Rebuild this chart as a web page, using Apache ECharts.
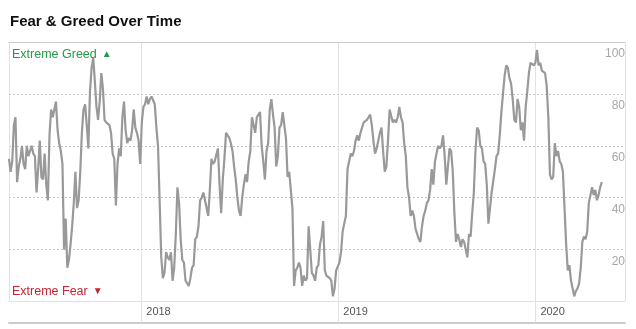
<!DOCTYPE html>
<html><head><meta charset="utf-8">
<script src="https://cdn.jsdelivr.net/npm/echarts@6/dist/echarts.min.js"></script>
<style>html,body{margin:0;padding:0;background:#fff}#c{width:636px;height:329px}</style>
</head><body><div id="c"></div>
<script>
// Daily Fear & Greed index, every 3 days starting 2017-05-01
const startDate = '2017-05-01';
const stepDays = 3;
const values2017 = [55,50,54,68,71,46,52,55,60,53, 51,60,56,58,60,57,56,42,51,62,
  48,47,57,45,39,64,74,71,71,77, 66,61,58,53,20,32,13,16,22,29,
  38,50,36,39,50,65,74,76,68,59, 81,90,94,85,75,70,77,88,82,70,
  69,69,68,65,57,55,37,53,59,56, 71,77,66,61,63,62,66,74,67,65, 62,53];
const values2018 = [69,75,76,79,76,78,79,79,
  76,67,60,39,17,9,11,19,17,16, 19,8,13,26,44,38,24,16,15,8,
  8,6,9,13,14,24,25,29,39,40, 42,42,36,33,43,55,53,54,54,59,
  45,34,47,55,65,64,63,61,58,52, 47,40,35,33,40,45,49,46,54,58,
  71,68,65,71,72,73,60,54,47,58, 61,74,78,72,67,52,56,67,68,73,
  73,63,48,50,50,36,6,12,13,15, 13,6,10,8,9,29,20,11,10,8,
  13,14,22,25,31,12,10,10,9,8, 2,5,12,12];
const values2019 = [15,19,27,30,33,51,
  51,57,56,58,62,64,62,65,67,69, 69,70,71,72,68,62,57,59,62,65,
  67,58,50,52,62,74,74,69,70,69, 71,75,71,69,61,56,44,40,33,35,
  33,28,26,24,23,29,33,35,38,39, 43,51,45,54,57,60,59,60,64,56,
  45,45,59,58,50,34,23,26,24,21, 24,23,20,17,26,25,34,42,58,67,
  66,60,59,54,53,45,30,30,42,42, 51,56,57,64,73,80,87,91,90,86,
  84,78,70,69,78,75,66,69,62,75, 81,88,92,92,91];
const values2020 = [92,97,91,92,89,
  89,88,83,71,49,47,48,61,56,58, 54,53,50,36,22,12,14,8,5,2,
  4,5,7,13,23,25,24,27,38,41, 44,41,43,39,41,44,46];

const yTicks = [20, 40, 60, 80, 100];
const yearLabels = ['2018', '2019', '2020'];
const axisMin = '2017-05-01';
const axisMax = '2020-06-15';

const values = [].concat(values2017, values2018, values2019, values2020);
const start = new Date(startDate + 'T00:00:00');
const data = values.map((v, i) => {
  const d = new Date(start.getTime());
  d.setDate(d.getDate() + i * stepDays);
  return [d.getTime(), v];
});

const FONT = 'Liberation Sans, Arial, Helvetica, sans-serif';
const YEAR = 365 * 24 * 3600 * 1000;

const chart = echarts.init(document.getElementById('c'), null, {renderer: 'canvas'});
chart.setOption({
  animation: false,
  backgroundColor: '#fff',
  title: [
    {text: 'Fear & Greed Over Time', left: 10, top: 14, padding: 0,
     textStyle: {fontFamily: FONT, fontSize: 15, fontWeight: 'bold', color: '#111', lineHeight: 16}},
    {text: '{t|Extreme Greed} {a|▲}', left: 12, top: 45.5, padding: 0,
     textStyle: {fontWeight: 'normal', rich: {
       t: {fontFamily: FONT, fontSize: 12.5, fontWeight: 'normal', color: '#23994a', lineHeight: 13},
       a: {fontFamily: FONT, fontSize: 10, fontWeight: 'normal', color: '#23994a', lineHeight: 13}}}},
    {text: '{t|Extreme Fear} {a|▼}', left: 12, top: 282.5, padding: 0,
     textStyle: {fontWeight: 'normal', rich: {
       t: {fontFamily: FONT, fontSize: 12.5, fontWeight: 'normal', color: '#c62333', lineHeight: 13},
       a: {fontFamily: FONT, fontSize: 10, fontWeight: 'normal', color: '#c62333', lineHeight: 13}}}}
  ],
  grid: {left: 9, right: 11, top: 42, bottom: 27.5, containLabel: false},
  xAxis: [
    {type: 'time', min: axisMin, max: axisMax, splitNumber: 3, minInterval: YEAR,
     axisLine: {show: true, lineStyle: {color: '#e2e2e2', width: 1}},
     axisTick: {show: true, length: 21, lineStyle: {color: '#e2e2e2', width: 1}},
     splitLine: {show: true, lineStyle: {color: '#e2e2e2', width: 1}},
     axisLabel: {
       formatter: function (v) {
         const d = new Date(v);
         const y = String(d.getFullYear());
         return (d.getMonth() === 0 && d.getDate() === 1 && yearLabels.includes(y)) ? y : '';
       },
       align: 'left', padding: [0, 0, 0, 5], margin: 5,
       color: '#555', fontSize: 11, fontFamily: FONT,
       showMinLabel: false, showMaxLabel: false}},
    {type: 'time', min: axisMin, max: axisMax, position: 'bottom', offset: 21,
     axisLine: {show: true, lineStyle: {color: '#cccccc', width: 2}},
     axisTick: {show: false}, axisLabel: {show: false}, splitLine: {show: false}},
    {type: 'time', min: axisMin, max: axisMax, position: 'top',
     axisLine: {show: true, lineStyle: {color: '#cccccc', width: 1}},
     axisTick: {show: false}, axisLabel: {show: false}, splitLine: {show: false}}
  ],
  yAxis: {
    type: 'value', position: 'right', min: 0, max: 100, interval: 20,
    axisLine: {show: false}, axisTick: {show: false},
    splitLine: {show: true, showMinLine: false, lineStyle: {color: '#c8c8c8', type: [2, 2], width: 1}},
    axisLabel: {inside: true, margin: 0, verticalAlign: 'top', padding: [6, 0, 0, 0],
      color: '#a8a8a8', fontSize: 12, fontFamily: FONT,
      formatter: function (v) { return yTicks.includes(v) ? String(v) : ''; }}
  },
  series: [{
    type: 'line', data: data, xAxisIndex: 0, yAxisIndex: 0,
    showSymbol: false, symbol: 'none',
    lineStyle: {color: '#999999', width: 2.2}
  }]
});
</script>
</body></html>
